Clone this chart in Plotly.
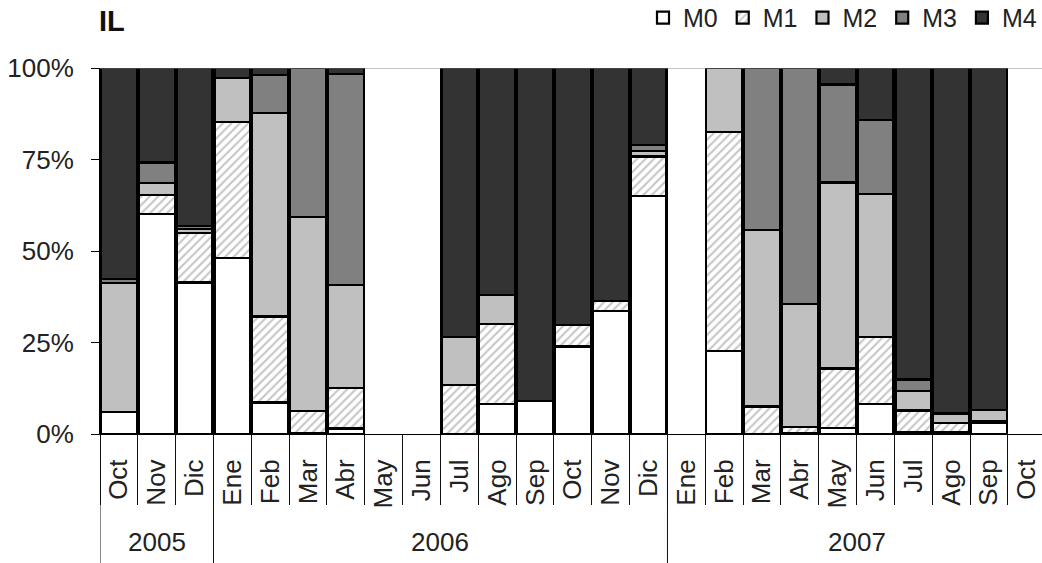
import plotly.graph_objects as go

months = ["Oct", "Nov", "Dic",
          "Ene", "Feb", "Mar", "Abr", "May", "Jun", "Jul", "Ago", "Sep", "Oct", "Nov", "Dic",
          "Ene", "Feb", "Mar", "Abr", "May", "Jun", "Jul", "Ago", "Sep", "Oct"]
years = ["2005", "2006", "2007"]
months_per_year = [3, 12, 10]
y_ticks = [0, 25, 50, 75, 100]
y_tick_labels = ["0%", "25%", "50%", "75%", "100%"]

# percentages per category (None = no data)
M0 = [6.0, 60.2, 41.4, 48.0, 8.6, 0.3, 1.5, None, None, 0, 8.1, 9.1, 23.9, 33.7, 65.1,
      None, 22.7, 0, 0.3, 1.7, 8.1, 0.5, 0.5, 3.1, None]
M1 = [0, 5.2, 13.6, 37.3, 23.5, 6.0, 11.0, None, None, 13.4, 22.0, 0, 5.8, 2.7, 10.7,
      None, 59.9, 7.5, 1.7, 16.2, 18.5, 5.9, 2.6, 0.5, None]
M2 = [35.2, 3.2, 1.0, 11.9, 55.7, 53.1, 28.2, None, None, 13.2, 7.9, 0, 0, 0, 1.6,
      None, 17.4, 48.2, 33.5, 50.8, 38.9, 5.4, 2.5, 3.0, None]
M3 = [1.2, 5.6, 0.8, 0, 10.3, 40.6, 57.7, None, None, 0, 0, 0, 0, 0, 1.5,
      None, 0, 44.3, 64.5, 26.8, 20.3, 3.1, 0, 0, None]
M4 = [57.6, 25.8, 43.2, 2.8, 1.9, 0, 1.6, None, None, 73.4, 62.0, 90.9, 70.3, 63.6, 21.1,
      None, 0, 0, 0, 4.5, 14.2, 85.1, 94.4, 93.4, None]

series = [("M0", M0, "#ffffff", None),
          ("M1", M1, "#ffffff", "/"),
          ("M2", M2, "#c0c0c0", None),
          ("M3", M3, "#808080", None),
          ("M4", M4, "#333333", None)]

FONT = "Liberation Sans, Arial, sans-serif"
TXT = "#222222"

x = list(range(len(months)))
fig = go.Figure()
for name, vals, col, pat in series:
    y = [v if (v is not None and v > 0) else None for v in vals]
    marker = dict(color=col, line=dict(color="black", width=2.2))
    if pat:
        marker["pattern"] = dict(shape=pat, fgcolor="#8c8c8c", bgcolor="#ffffff",
                                 size=6, solidity=0.35)
    fig.add_trace(go.Bar(x=x, y=y, name=name, marker=marker))

# year group dividers and labels
shapes = []
annotations = []
start = 0
bounds = [-0.5]
for yr, n in zip(years, months_per_year):
    center = start + (n - 1) / 2
    annotations.append(dict(x=center, xref="x", y=-0.295, yref="paper", text=yr,
                            showarrow=False, yanchor="middle", xanchor="center",
                            font=dict(family=FONT, size=26, color=TXT)))
    start += n
    bounds.append(start - 0.5)
for b in bounds[:-1]:
    shapes.append(dict(type="line", xref="x", yref="paper", x0=b, x1=b, y0=0, y1=-0.36,
                       line=dict(color="#111111", width=1)))
# top border line at 100%
shapes.append(dict(type="line", xref="paper", yref="y", x0=0, x1=1, y0=100, y1=100,
                   line=dict(color="#8a8a8a", width=1)))

annotations.append(dict(x=0, xref="paper", xshift=-3, y=1.128, yref="paper", text="<b>IL</b>",
                        showarrow=False, xanchor="left", yanchor="middle",
                        font=dict(family=FONT, size=29, color="#111111")))

fig.update_layout(
    width=1042, height=563,
    margin=dict(l=100, r=0, t=68, b=129, autoexpand=False),
    barmode="stack", bargap=0.05,
    plot_bgcolor="white", paper_bgcolor="white",
    font=dict(family=FONT, size=26, color=TXT),
    showlegend=True,
    legend=dict(orientation="h", x=1.0, xanchor="right", y=1.137, yanchor="middle",
                font=dict(family=FONT, size=25, color=TXT), traceorder="normal",
                bgcolor="rgba(0,0,0,0)"),
    shapes=shapes, annotations=annotations,
)
fig.update_xaxes(
    range=[-0.5, 24.4], tickmode="array", tickvals=x, ticktext=months, tickangle=-90,
    ticks="", showgrid=False, zeroline=False, showline=True, linecolor="black", linewidth=1,
    tickfont=dict(family=FONT, size=26, color=TXT), ticklabelstandoff=14,
    minor=dict(tickmode="array", tickvals=[i - 0.5 for i in range(len(months) + 1)],
               ticks="outside", ticklen=70, tickcolor="#111111", tickwidth=1, showgrid=False),
)
fig.update_yaxes(
    range=[0, 100], tickmode="array", tickvals=y_ticks, ticktext=y_tick_labels,
    ticks="outside", ticklen=8, tickcolor="black", showgrid=False, zeroline=False,
    showline=True, linecolor="black", linewidth=1, ticklabelstandoff=12,
    tickfont=dict(family=FONT, size=26, color=TXT),
)
fig.write_html("out.html")
